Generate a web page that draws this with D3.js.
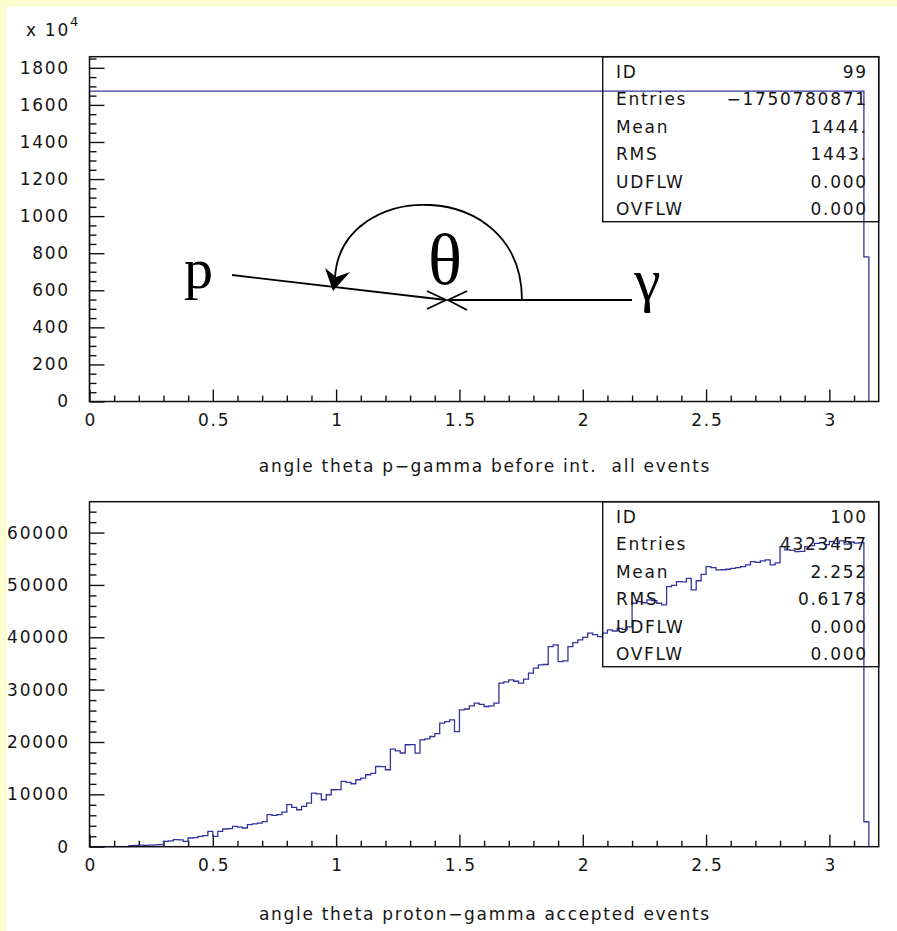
<!DOCTYPE html>
<html>
<head>
<meta charset="utf-8">
<script src="https://cdn.jsdelivr.net/npm/d3@7"></script>
<style>
  html, body { margin: 0; padding: 0; background: #fbfdcf; }
  svg { display: block; }
  text { font-family: "DejaVu Sans", sans-serif; fill: #151515; white-space: pre; }
</style>
</head>
<body>
<svg id="chart" width="897" height="931"></svg>
<script>
// ---- shared binning (radians) ----
const binWidth = 0.02;
const xDomain = [0, 3.2];
const xMajorTicks = [0, 0.5, 1, 1.5, 2, 2.5, 3];
const xTickLabels = ["0", "0.5", "1", "1.5", "2", "2.5", "3"];

// ---- ID 99: angle theta p-gamma before interaction, all events (x 10^4) ----
const allEventsCounts = [
  1674, 1674, 1674, 1674, 1674, 1674, 1674, 1674, 1674, 1674,
  1674, 1674, 1674, 1674, 1674, 1674, 1674, 1674, 1674, 1674,
  1674, 1674, 1674, 1674, 1674, 1674, 1674, 1674, 1674, 1674,
  1674, 1674, 1674, 1674, 1674, 1674, 1674, 1674, 1674, 1674,
  1674, 1674, 1674, 1674, 1674, 1674, 1674, 1674, 1674, 1674,
  1674, 1674, 1674, 1674, 1674, 1674, 1674, 1674, 1674, 1674,
  1674, 1674, 1674, 1674, 1674, 1674, 1674, 1674, 1674, 1674,
  1674, 1674, 1674, 1674, 1674, 1674, 1674, 1674, 1674, 1674,
  1674, 1674, 1674, 1674, 1674, 1674, 1674, 1674, 1674, 1674,
  1674, 1674, 1674, 1674, 1674, 1674, 1674, 1674, 1674, 1674,
  1674, 1674, 1674, 1674, 1674, 1674, 1674, 1674, 1674, 1674,
  1674, 1674, 1674, 1674, 1674, 1674, 1674, 1674, 1674, 1674,
  1674, 1674, 1674, 1674, 1674, 1674, 1674, 1674, 1674, 1674,
  1674, 1674, 1674, 1674, 1674, 1674, 1674, 1674, 1674, 1674,
  1674, 1674, 1674, 1674, 1674, 1674, 1674, 1674, 1674, 1674,
  1674, 1674, 1674, 1674, 1674, 1674, 1674, 780
];
const allEventsYMax = 1860;
const allEventsYMajor = [0, 200, 400, 600, 800, 1000, 1200, 1400, 1600, 1800];
const allEventsYMinorStep = 50;
const allEventsTitle = "angle theta p\u2212gamma before int.  all events";
const allEventsStats = [
  ["ID", "99"],
  ["Entries", "\u22121750780871"],
  ["Mean", "1444."],
  ["RMS", "1443."],
  ["UDFLW", "0.000"],
  ["OVFLW", "0.000"]
];

// ---- ID 100: angle theta proton-gamma, accepted events ----
const acceptedCounts = [
  0, 0, 0, 0, 0, 0, 0, 0,
  200, 250, 300, 250, 300, 350, 400,
  1010, 1100, 1340, 1300, 1010,
  1660, 1750, 1970, 2100, 2920, 1970, 2920, 3380, 3450, 3870,
  3750, 3570, 4200, 4350, 4520, 4800, 6110, 6000, 6110, 6600,
  8020, 7500, 7060, 7690, 8340, 10250, 10100, 8970, 9920, 10880,
  10900, 12460, 12300, 12020, 12790, 13100, 13740, 14000, 15320, 15300,
  14700, 18640, 18300, 17900, 19470, 19500, 17880, 20420, 20600, 21050,
  21600, 23600, 23900, 24240, 22000, 26150, 26300, 26900, 27420, 27200,
  26780, 26900, 27420, 31240, 31500, 31870, 31600, 31240, 32000, 33150,
  34100, 34730, 34800, 38220, 38550, 35360, 35500, 38220, 39000, 39500,
  40000, 40780, 40500, 40130, 40780, 41400, 41200, 41700, 41500, 42000,
  46500, 46800, 46600, 47140, 47000, 46500, 46180, 49680, 49900, 50630,
  50600, 51270, 49050, 50800, 52000, 53490, 53300, 52860, 52900, 53000,
  53180, 53300, 53500, 53820, 54450, 54300, 54600, 54770, 53820, 54200,
  57310, 56680, 56600, 56360, 56400, 57310, 57500, 57950, 58100, 57700,
  58300, 57900, 58400, 57800, 58200, 58000, 58070, 4770
];
const acceptedYMax = 65900;
const acceptedYMajor = [0, 10000, 20000, 30000, 40000, 50000, 60000];
const acceptedYMinorStep = 2000;
const acceptedTitle = "angle theta proton\u2212gamma accepted events";
const acceptedStats = [
  ["ID", "100"],
  ["Entries", "4323457"],
  ["Mean", "2.252"],
  ["RMS", "0.6178"],
  ["UDFLW", "0.000"],
  ["OVFLW", "0.000"]
];

// ---- page styling ----
const histColor = "#34349e";
const ls = 1.7;            // letter spacing of the plotter font
const fontSize = 17;

const svg = d3.select("#chart");
svg.append("defs").append("clipPath").attr("id", "page")
  .append("rect").attr("x", 7).attr("y", 6).attr("width", 890).attr("height", 925);
svg.append("rect").attr("x", 7).attr("y", 6).attr("width", 890).attr("height", 925).attr("fill", "#ffffff");
const page = svg.append("g").attr("clip-path", "url(#page)");

function drawHistogram(cfg) {
  const { top, bottom, left, right, counts, yMax, yMajor, yMinorStep, title, stats } = cfg;
  const x = d3.scaleLinear().domain(xDomain).range([left, right]);
  const y = d3.scaleLinear().domain([0, yMax]).range([bottom, top]);
  const g = page.append("g");

  // minor ticks, x (every 0.1) and y
  const xMinor = d3.range(1, 32).map(i => i / 10).filter(v => Math.abs(v * 2 - Math.round(v * 2)) > 1e-6);
  g.append("g").attr("transform", `translate(0,${bottom})`)
    .call(d3.axisBottom(x).tickValues(xMinor).tickSizeInner(-6).tickSizeOuter(0).tickFormat(""))
    .call(a => a.select(".domain").remove());
  const yMinor = d3.range(yMinorStep, yMax, yMinorStep).filter(v => !yMajor.includes(v));
  g.append("g").attr("transform", `translate(${left},0)`)
    .call(d3.axisLeft(y).tickValues(yMinor).tickSizeInner(-7).tickSizeOuter(0).tickFormat(""))
    .call(a => a.select(".domain").remove());

  // major ticks with labels
  const xAxis = g.append("g").attr("transform", `translate(0,${bottom})`)
    .call(d3.axisBottom(x).tickValues(xMajorTicks).tickSizeInner(-12).tickSizeOuter(0)
      .tickPadding(12.5).tickFormat((d, i) => xTickLabels[i]));
  xAxis.select(".domain").remove();
  xAxis.selectAll("text").attr("font-family", null).attr("font-size", null)
    .style("font-size", fontSize + "px").style("letter-spacing", ls + "px")
    .attr("dx", ls / 2);

  const yAxis = g.append("g").attr("transform", `translate(${left},0)`)
    .call(d3.axisLeft(y).tickValues(yMajor).tickSizeInner(-15).tickSizeOuter(0)
      .tickPadding(21.5 - ls).tickFormat(d3.format("d")));
  yAxis.select(".domain").remove();
  yAxis.selectAll("text").attr("font-family", null).attr("font-size", null)
    .style("font-size", fontSize + "px").style("letter-spacing", ls + "px");

  g.selectAll(".tick line").attr("stroke", "#111").attr("stroke-width", 1.4);

  // histogram outline
  const pts = [[0, 0]].concat(counts.map((c, i) => [i * binWidth, c]))
    .concat([[counts.length * binWidth, 0]]);
  const line = d3.line().x(d => x(d[0])).y(d => y(d[1])).curve(d3.curveStepAfter);
  g.append("path").attr("d", line(pts)).attr("fill", "none")
    .attr("stroke", histColor).attr("stroke-width", 1.3);

  // frame
  g.append("rect").attr("x", left).attr("y", top)
    .attr("width", right - left).attr("height", bottom - top)
    .attr("fill", "none").attr("stroke", "#111").attr("stroke-width", 1.5);

  // statistics box (transparent)
  const boxLeft = 602.7, boxH = 165, rowStep = 27.5;
  g.append("rect").attr("x", boxLeft).attr("y", top)
    .attr("width", right - boxLeft).attr("height", boxH)
    .attr("fill", "none").attr("stroke", "#111").attr("stroke-width", 1.4);
  stats.forEach((s, i) => {
    const cy = top + 15 + i * rowStep;
    g.append("text").attr("x", 616).attr("y", cy).attr("dy", "0.36em")
      .style("font-size", fontSize + "px").style("letter-spacing", ls + "px").text(s[0]);
    g.append("text").attr("x", 866 + ls).attr("y", cy).attr("dy", "0.36em")
      .attr("text-anchor", "end")
      .style("font-size", fontSize + "px").style("letter-spacing", ls + "px").text(s[1]);
  });

  // x title
  g.append("text").attr("x", (left + right) / 2 + ls / 2).attr("y", cfg.titleY)
    .attr("text-anchor", "middle")
    .style("font-size", fontSize + "px").style("letter-spacing", ls + "px").text(title);
  return { x, y, g };
}

drawHistogram({
  top: 56.7, bottom: 401.5, left: 89.5, right: 878.7,
  counts: allEventsCounts, yMax: allEventsYMax, yMajor: allEventsYMajor,
  yMinorStep: allEventsYMinorStep, title: allEventsTitle, stats: allEventsStats, titleY: 472
});
drawHistogram({
  top: 501.7, bottom: 846.7, left: 89.5, right: 878.7,
  counts: acceptedCounts, yMax: acceptedYMax, yMajor: acceptedYMajor,
  yMinorStep: acceptedYMinorStep, title: acceptedTitle, stats: acceptedStats, titleY: 920
});

// scale factor of the upper y axis
const sf = page.append("text").attr("x", 26).attr("y", 36)
  .style("font-size", fontSize + "px").style("letter-spacing", ls + "px");
sf.append("tspan").text("x 10");
sf.append("tspan").attr("dy", -10).style("font-size", "13px").text("4");

// kinematics sketch: proton and photon meeting at angle theta
const sk = page.append("g").attr("stroke", "#000").attr("stroke-width", 1.8).attr("fill", "none");
sk.append("path").attr("d", "M232,275 L446,300");
sk.append("path").attr("d", "M427,291 L446,300 L427,309");
sk.append("path").attr("d", "M632,300 L448,300");
sk.append("path").attr("d", "M467,291 L448,300 L467,310");
sk.append("path").attr("d", "M522,300 C522,176 340,178 335,278");
page.append("path").attr("d", "M333,291 L325,268 L336,277 L350,272 Z").attr("fill", "#000");

const serif = "'Liberation Serif', 'DejaVu Serif', serif";
page.append("text").attr("x", 184).attr("y", 288).style("font-family", serif)
  .style("font-size", "58px").style("fill", "#000").text("p");
page.append("text").attr("x", 445).attr("y", 284).attr("text-anchor", "middle").style("font-family", serif)
  .style("font-size", "71px").style("fill", "#000").text("\u03b8");
page.append("text").attr("x", 634).attr("y", 300).style("font-family", serif)
  .style("font-size", "60px").style("fill", "#000").text("\u03b3");
</script>
</body>
</html>
